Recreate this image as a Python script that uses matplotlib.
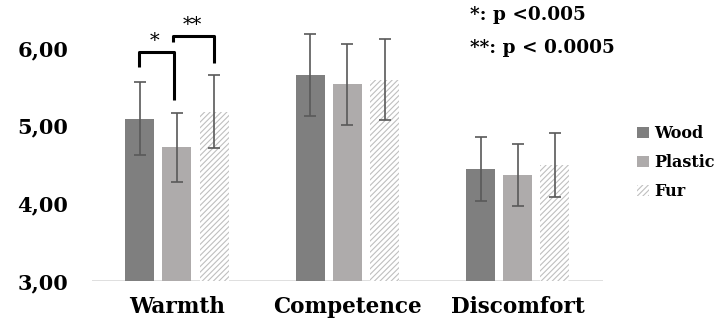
import matplotlib
matplotlib.use("Agg")
import matplotlib.pyplot as plt
import numpy as np

categories = ["Warmth", "Competence", "Discomfort"]
series = ["Wood", "Plastic", "Fur"]
wood = [5.09, 5.655, 4.44]
plastic = [4.72, 5.535, 4.37]
fur = [5.18, 5.59, 4.49]
wood_err = [0.47, 0.53, 0.41]
plastic_err = [0.44, 0.52, 0.40]
fur_err = [0.47, 0.52, 0.41]
yticks = [3.0, 4.0, 5.0, 6.0]
ytick_labels = ["3,00", "4,00", "5,00", "6,00"]

plt.rcParams['font.family'] = ['DejaVu Serif']
plt.rcParams['font.weight'] = 'bold'
plt.rcParams['hatch.linewidth'] = 0.8

fig = plt.figure(figsize=(7.17, 3.24), dpi=100)
ax = fig.add_axes([0.128, 0.1327, 0.713, 0.863])

x = np.arange(len(categories))
w = 0.17
off = 0.218
vals = [wood, plastic, fur]
errs = [wood_err, plastic_err, fur_err]
styles = [dict(color='#7f7f7f'), dict(color='#aeabab'),
          dict(facecolor='white', edgecolor='#bfbfbf', hatch='//////', linewidth=0)]
for i, (v, e, st) in enumerate(zip(vals, errs, styles)):
    xs = x + (i - 1) * off
    ax.bar(xs, np.array(v) - 3.0, width=w, bottom=3.0, label=series[i], zorder=2, **st)
    ax.errorbar(xs, v, yerr=e, fmt='none', ecolor='#595959', elinewidth=1.2,
                capsize=4, capthick=1.2, zorder=3)

ax.set_xlim(-0.5, 2.5)
ax.set_ylim(3.0, 6.6)
for s in ['top', 'right', 'left', 'bottom']:
    ax.spines[s].set_visible(False)
ax.axhline(3.0, color='#d9d9d9', linewidth=1.2, zorder=1)
ax.set_yticks(yticks)
ax.set_yticklabels(ytick_labels, fontsize=15, fontweight='bold')
ax.set_xticks(x)
ax.set_xticklabels(categories, fontsize=15.5, fontweight='bold')
ax.tick_params(axis='y', length=0, pad=17)
ax.tick_params(axis='x', length=0, pad=11)

# significance brackets
ax.plot([-0.22, -0.22, -0.015, -0.015], [5.755, 5.948, 5.948, 5.33],
        color='black', linewidth=2.2, clip_on=False, solid_capstyle='butt')
ax.text(-0.13, 5.97, '*', ha='center', va='bottom', fontsize=14, fontweight='normal')
ax.plot([-0.026, -0.026, 0.22, 0.22], [6.077, 6.154, 6.154, 5.807],
        color='black', linewidth=2.2, clip_on=False, solid_capstyle='butt')
ax.text(0.09, 6.18, '**', ha='center', va='bottom', fontsize=14, fontweight='normal')

fig.text(0.655, 0.955, '*: p <0.005', fontsize=13.3, fontweight='bold', va='center')
fig.text(0.655, 0.852, '**: p < 0.0005', fontsize=13.3, fontweight='bold', va='center')

leg = fig.legend(loc='center left', bbox_to_anchor=(0.888, 0.498), frameon=False,
                 prop={'size': 11.5, 'weight': 'bold'}, handlelength=0.75,
                 handleheight=0.75, handletextpad=0.35, labelspacing=0.75,
                 borderaxespad=0, borderpad=0)

fig.savefig('out.png', dpi=100)
